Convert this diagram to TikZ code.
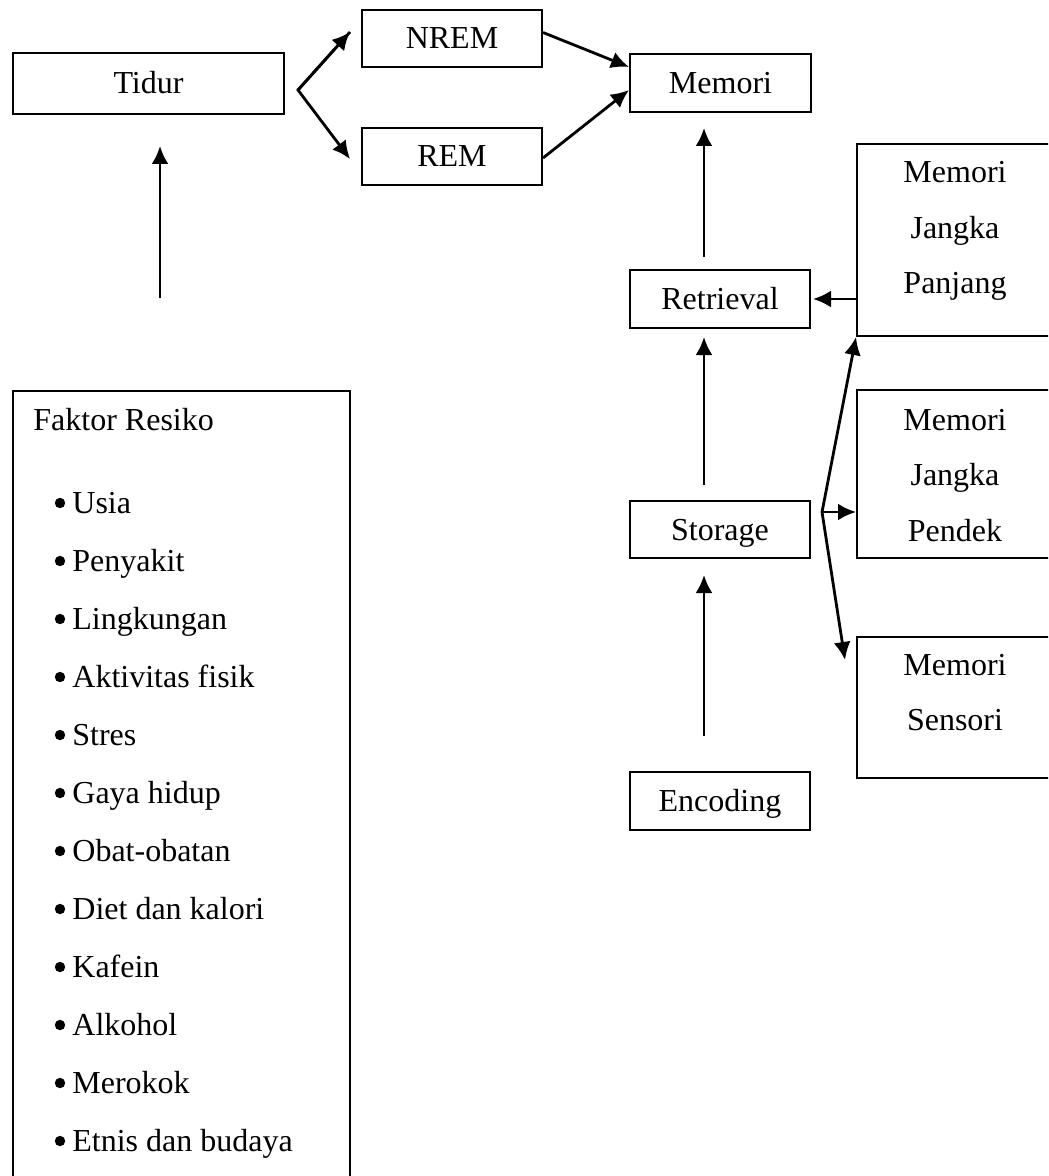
\documentclass[tikz,border=0pt]{standalone}
\usepackage{fontspec}
\setmainfont{Liberation Serif}
\usetikzlibrary{arrows.meta}
\begin{document}
\begin{tikzpicture}[x=0.5pt,y=-0.5pt,
  every node/.style={font=\fontsize{16}{19}\selectfont},
  box/.style={draw,line width=1pt,inner sep=0pt,text height=10.5pt,text depth=0pt},
  lbl/.style={inner sep=0pt,anchor=base},
  item/.style={inner sep=0pt,anchor=base west},
  bul/.style={fill=black},
  arr/.style={line width=1.4pt,-{Latex[length=9pt,width=8.5pt]}}]
\useasboundingbox (0,0) rectangle (1048,1176);
\clip (0,0) rectangle (1048,1176);
% top boxes
\node[box,minimum width=135.5pt,minimum height=30.5pt] (tidur) at (148.5,83.5) {Tidur};
\node[box,minimum width=90pt,minimum height=28.5pt] (nrem) at (452,38.5) {NREM};
\node[box,minimum width=90pt,minimum height=28.5pt] (rem) at (452,156.5) {REM};
\node[box,minimum width=90.5pt,minimum height=29pt] (mem) at (720.5,83) {Memori};
% middle column
\node[box,minimum width=90pt,minimum height=29pt] (ret) at (720,299) {Retrieval};
\node[box,minimum width=90pt,minimum height=28.5pt] (sto) at (720,529.5) {Storage};
\node[box,minimum width=90pt,minimum height=29pt] (enc) at (720,801) {Encoding};
% right boxes
\node[box,minimum width=106.5pt,minimum height=96pt] (mjp) at (963.5,240) {};
\node[lbl] (mjp1) at (955,183) {Memori};
\node[lbl] (mjp2) at (955,239) {Jangka};
\node[lbl] (mjp3) at (955,294) {Panjang};
\node[box,minimum width=106.5pt,minimum height=84pt] (mjd) at (963.5,474) {};
\node[lbl] (mjd1) at (955,430) {Memori};
\node[lbl] (mjd2) at (955,485.5) {Jangka};
\node[lbl] (mjd3) at (955,541) {Pendek};
\node[box,minimum width=106.5pt,minimum height=70.5pt] (ms) at (963.5,707.5) {};
\node[lbl] (ms1) at (955,675) {Memori};
\node[lbl] (ms2) at (955,730) {Sensori};
% risk factor box
\node[box,minimum width=168.5pt,minimum height=404.5pt] (fak) at (181.5,795.5) {};
\node[item] (fakT) at (33,430) {Faktor Resiko};
\foreach \t [count=\i from 0] in {Usia,Penyakit,Lingkungan,Aktivitas fisik,Stres,Gaya hidup,Obat-obatan,Diet dan kalori,Kafein,Alkohol,Merokok,Etnis dan budaya}{
  \fill[bul] (60,503+58*\i) circle (2.6pt);
  \node[item] (it\i) at (72,513+58*\i) {\t};
}
% coordinates for free arrow ends
\coordinate (fa1) at (160,298);
\coordinate (fa2) at (160,146);
\coordinate (br) at (298,90);
\coordinate (nremIn) at (350,32);
\coordinate (remIn) at (350,159);
\coordinate (r1) at (704,257);
\coordinate (r2) at (704,128);
\coordinate (s1) at (704,485);
\coordinate (s2) at (704,337);
\coordinate (e1) at (704,736);
\coordinate (e2) at (704,575);
\coordinate (sb) at (822,512);
\coordinate (msIn) at (845,660);
% connectors
\draw[arr] (fa1) -- (fa2);
\draw[arr,line join=miter] (nremIn) -- (br) -- (remIn);
\draw[arr] (br) -- (nremIn);
\draw[arr] ([yshift=3pt]nrem.east) -- ([yshift=8pt]mem.west);
\draw[arr] ([yshift=-0.75pt]rem.east) -- ([yshift=-3.5pt]mem.west);
\draw[arr] (r1) -- (r2);
\draw[arr] (mjp.west |- ret.east) -- ([xshift=1pt]ret.east);
\draw[arr] (s1) -- (s2);
\draw[arr] (e1) -- (e2);
\draw[arr] (sb) -- (mjp.south west);
\draw[arr] (sb) -- (mjd.west |- sb);
\draw[arr] (sb) -- (msIn);
\end{tikzpicture}
\end{document}
